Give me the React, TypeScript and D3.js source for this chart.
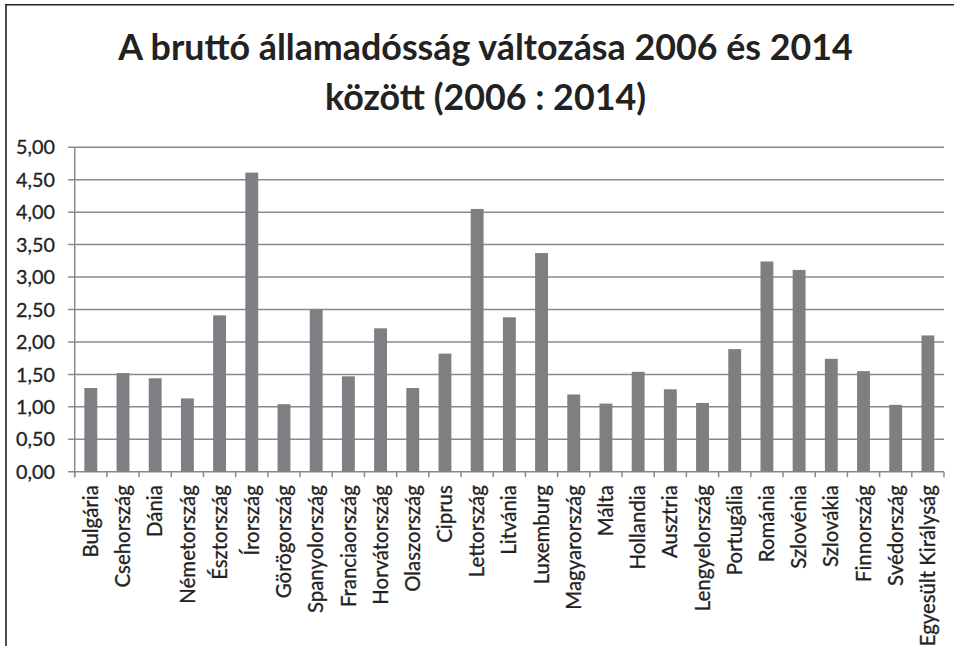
import React from "react";
import * as d3 from "d3";

const titleLines = ["A bruttó államadósság változása 2006 és 2014", "között (2006 : 2014)"];

const categories = [
  "Bulgária", "Csehország", "Dánia", "Németország", "Észtország", "Írország",
  "Görögország", "Spanyolország", "Franciaország", "Horvátország", "Olaszország",
  "Ciprus", "Lettország", "Litvánia", "Luxemburg", "Magyarország", "Málta",
  "Hollandia", "Ausztria", "Lengyelország", "Portugália", "Románia", "Szlovénia",
  "Szlovákia", "Finnország", "Svédország", "Egyesült Királyság",
];

const values = [
  1.29, 1.52, 1.44, 1.13, 2.41, 4.61,
  1.04, 2.50, 1.47, 2.21, 1.29,
  1.82, 4.05, 2.38, 3.37, 1.19, 1.05,
  1.54, 1.27, 1.06, 1.89, 3.24, 3.11,
  1.74, 1.55, 1.03, 2.10,
];

const yTicks = [0, 0.5, 1, 1.5, 2, 2.5, 3, 3.5, 4, 4.5, 5];

const W = 954;
const H = 646;
const plot = { left: 74.7, right: 944, top: 147.3, bottom: 471.7 };
const FONT = "Lato, 'Open Sans', sans-serif";

export default function App() {
  const x = d3
    .scaleBand<string>()
    .domain(categories)
    .range([plot.left, plot.right])
    .paddingInner(0.6)
    .paddingOuter(0.3);
  const y = d3.scaleLinear().domain([0, 5]).range([plot.bottom, plot.top]);
  const fmt = (v: number) => d3.format(".2f")(v).replace(".", ",");
  const step = x.step();
  const bounds = d3.range(categories.length + 1).map((i) => plot.left + i * step);

  return (
    <div style={{ position: "absolute", left: 0, top: 0 }}>
      <svg width={W} height={H} style={{ display: "block", background: "#fff" }}>
        <rect x={0} y={0} width={W} height={H} fill="#fff" />
        {/* frame */}
        <line x1={5.3} x2={W} y1={4.7} y2={4.7} stroke="#222" strokeWidth={1.6} />
        <line x1={6} x2={6} y1={4} y2={H} stroke="#222" strokeWidth={1.6} />

        {/* title */}
        <g fontFamily={FONT} fontWeight={700} fontSize={35.8} fill="#222" textAnchor="middle">
          <text x={485.5} y={60}>{titleLines[0]}</text>
          <text x={485.5} y={109.5}>{titleLines[1]}</text>
        </g>

        {/* gridlines */}
        {yTicks.map((t) => (
          <line
            key={"g" + t}
            x1={plot.left - 6.5}
            x2={plot.right}
            y1={y(t)}
            y2={y(t)}
            stroke="#8a8a8a"
            strokeWidth={1.5}
          />
        ))}

        {/* y axis line */}
        <line x1={plot.left} x2={plot.left} y1={plot.top} y2={plot.bottom + 5.5} stroke="#8a8a8a" strokeWidth={1.5} />

        {/* x ticks */}
        {bounds.map((bx, i) => (
          <line
            key={"xt" + i}
            x1={bx}
            x2={bx}
            y1={plot.bottom}
            y2={plot.bottom + 5.5}
            stroke="#8a8a8a"
            strokeWidth={1.5}
          />
        ))}

        {/* bars */}
        {categories.map((c, i) => (
          <rect
            key={c}
            x={x(c)}
            y={y(values[i])}
            width={x.bandwidth()}
            height={y(0) - y(values[i])}
            fill="#7f7f83"
          />
        ))}

        {/* y labels */}
        <g fontFamily={FONT} fontSize={19.8} fill="#222" stroke="#222" strokeWidth={0.3} textAnchor="end">
          {yTicks.map((t) => (
            <text key={"yl" + t} x={55} y={y(t)} dy="0.36em">
              {fmt(t)}
            </text>
          ))}
        </g>

        {/* x labels */}
        <g fontFamily={FONT} fontSize={20.4} fill="#222" stroke="#222" strokeWidth={0.3} textAnchor="end">
          {categories.map((c) => {
            const cx = (x(c) as number) + x.bandwidth() / 2;
            const ty = plot.bottom + 13.5;
            return (
              <text key={"xl" + c} transform={`translate(${cx},${ty}) rotate(-90)`} dy="0.35em">
                {c}
              </text>
            );
          })}
        </g>
      </svg>
    </div>
  );
}
